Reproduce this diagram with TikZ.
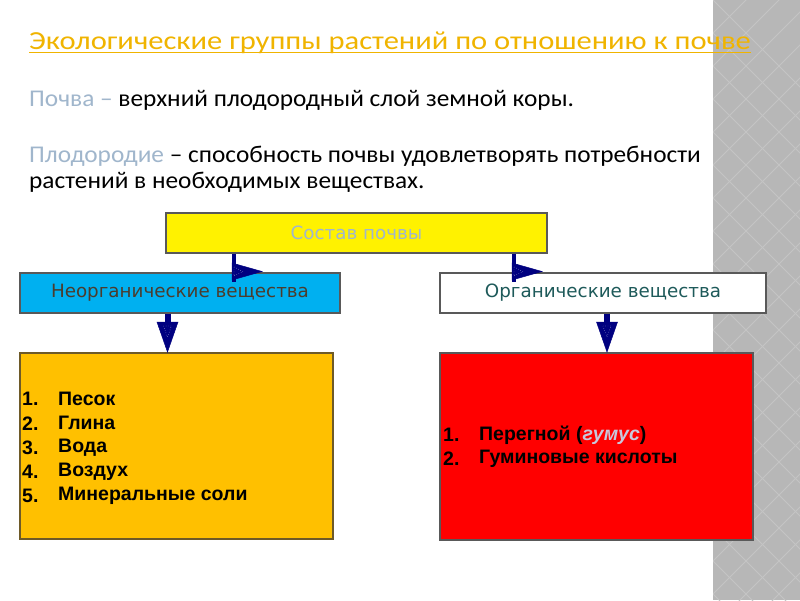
\documentclass[tikz,border=0pt]{standalone}
\usepackage{fontspec}
\setmainfont{Carlito}
\newfontfamily\bodyfont[FakeStretch=1.055]{Carlito}
\newfontfamily\titlefont[FakeStretch=1.175]{Carlito}
\newfontfamily\boxfont{DejaVu Sans}
\newfontfamily\listfont{Liberation Sans}
\usetikzlibrary{calc}
\definecolor{titleor}{RGB}{240,180,0}
\definecolor{steel}{RGB}{160,182,204}
\definecolor{navy}{RGB}{0,0,128}
\definecolor{stripgray}{RGB}{183,183,183}
\definecolor{stripline}{RGB}{196,196,196}
\definecolor{inorgtext}{RGB}{75,60,45}
\definecolor{orgtext}{RGB}{30,90,90}
\definecolor{humus}{RGB}{200,200,220}
\tikzset{
  body/.style={anchor=base west, inner sep=0pt, font=\bodyfont\fontsize{24}{28}\selectfont},
  rect/.style={draw=black!65, line width=1.2pt, inner sep=0pt},
  boxtxt/.style={font=\boxfont\fontsize{18.3}{21}\selectfont},
  item/.style={anchor=west, inner sep=0pt, font=\listfont\bfseries\fontsize{19.5}{24}\selectfont},
  stem/.style={draw=navy, line width=4pt},
  head/.style={fill=navy, draw=navy, line width=0.5pt},
  dots/.style={draw=white, dotted, line width=0.4pt}
}
\begin{document}
\begin{tikzpicture}[x=1pt,y=-1pt]
\useasboundingbox (0,0) rectangle (800,600);
\fill[white] (0,0) rectangle (800,600);
% right strip
\fill[stripgray] (713,0) rectangle (800,600);
\begin{scope}
\clip (713,0) rectangle (800,600);
\foreach \k in {-1,...,22} {
  \draw[stripline, line width=0.8pt] (680,\k*33) -- ++(140,140);
  \draw[stripline, line width=0.8pt] (680,\k*33) -- ++(140,-140);
}
\end{scope}
% title
\node[body, font=\titlefont\fontsize{26}{30}\selectfont, text=titleor] (title) at (29,49) {Экологические группы растений по отношению к почве};
\draw[titleor, line width=1.2pt] (title.base west) ++(0,3.5) -- ($(title.base east)+(0,3.5)$);
\node[body] (t1) at (29,106) {\textcolor{steel}{Почва –} верхний плодородный слой земной коры.};
\node[body] (t2) at (29,162) {\textcolor{steel}{Плодородие} – способность почвы удовлетворять потребности};
\node[body] (t3) at (29,188) {растений в необходимых веществах.};
% boxes
\node[rect, fill=yellow, minimum width=381pt, minimum height=40pt, boxtxt, text=steel] (ys) at (356.5,233) {Состав почвы};
\node[rect, fill={rgb,255:red,0;green,176;blue,240}, minimum width=320pt, minimum height=40pt, boxtxt, text=inorgtext] (bn) at (180,293) {Неорганические вещества};
\node[rect, fill=white, minimum width=326pt, minimum height=40pt, boxtxt, text=orgtext] (wo) at (603,293) {Органические вещества};
\node[rect, draw={rgb,255:red,110;green,90;blue,40}, fill={rgb,255:red,255;green,192;blue,0}, minimum width=313pt, minimum height=186pt] (ob) at (176.5,446) {};
\node[rect, fill=red, minimum width=313pt, minimum height=187pt] (rb) at (596.5,446.5) {};
% list items
\foreach \n/\t [count=\i from 0] in {1./Песок,2./Глина,3./Вода,4./Воздух,5./Минеральные соли} {
  \node[item] (on\i) at (22,{399+24.3*\i}) {\n};
  \node[item] (ot\i) at (58,{399+24.3*\i}) {\t};
}
\node[item] (rn0) at (443,435) {1.};
\node[item] (rt0) at (479,435) {Перегной (\textcolor{humus}{\itshape гумус})};
\node[item] (rn1) at (443,459) {2.};
\node[item] (rt1) at (479,459) {Гуминовые кислоты};
% connectors top
\coordinate (c1) at (234,0);
\coordinate (c2) at (514,0);
\draw[stem] (ys.south -| c1) -- ($(bn.north -| c1)+(0,10)$);
\draw[stem] (ys.south -| c2) -- ($(wo.north -| c2)+(0,10)$);
\foreach \cx in {232,512} {
  \filldraw[head] (\cx,263) -- (\cx+30,271.5) -- (\cx,280) -- cycle;
  \draw[dots] (\cx+2,267) -- (\cx+11,271.5) -- (\cx+2,276) -- cycle;
}
% connectors bottom
\coordinate (c3) at (167.5,0);
\coordinate (c4) at (607,0);
\draw[draw=navy, line width=6pt] (bn.south -| c3) -- ($(bn.south -| c3)+(0,10)$);
\draw[draw=navy, line width=6pt] (wo.south -| c4) -- ($(wo.south -| c4)+(0,10)$);
\foreach \cx in {167.5,607} {
  \filldraw[head] (\cx-10.5,322) -- (\cx+10.5,322) -- (\cx,352) -- cycle;
  \draw[dots] (\cx-4,326) -- (\cx+4,326) -- (\cx,337) -- cycle;
}
\end{tikzpicture}
\end{document}
